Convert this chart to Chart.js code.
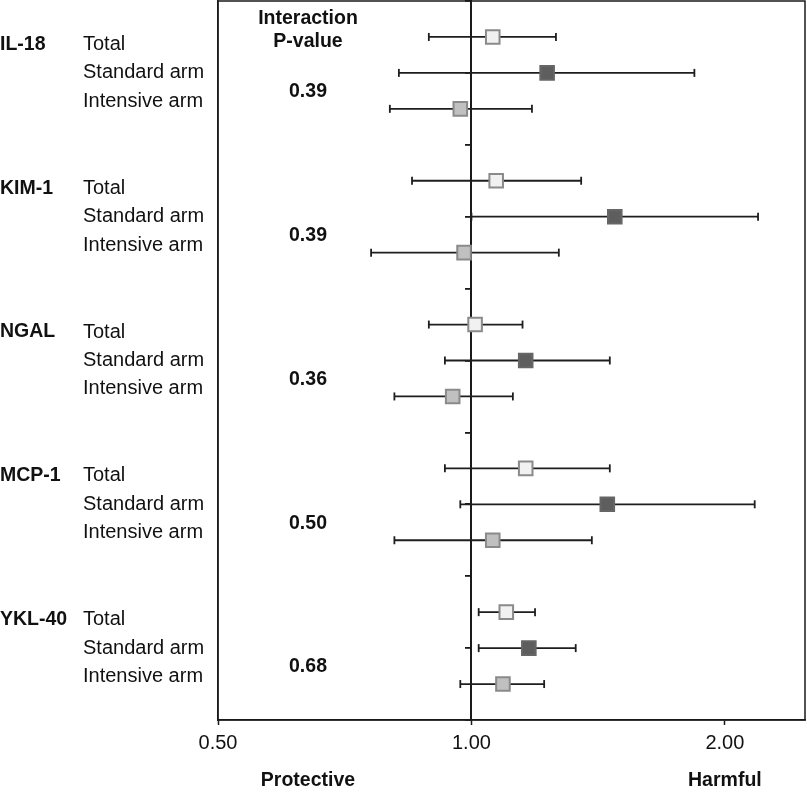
<!DOCTYPE html>
<html>
<head>
<meta charset="utf-8">
<script src="https://cdn.jsdelivr.net/npm/chart.js@4.4.1/dist/chart.umd.min.js"></script>
<style>
    html, body { margin: 0; padding: 0; background: #ffffff; }
    #wrap { width: 807px; height: 792px; position: relative; }
</style>
</head>
<body>
<div id="wrap"><canvas id="forest"></canvas></div>
<script>
// Data (hazard ratios, log scale)
const biomarkers = ['IL-18', 'KIM-1', 'NGAL', 'MCP-1', 'YKL-40'];
const arms = ['Total', 'Standard arm', 'Intensive arm'];
const pValues = ['0.39', '0.39', '0.36', '0.50', '0.68'];

const totalEst = [1.06, 1.07, 1.01, 1.16, 1.10];
const totalLo = [0.89, 0.85, 0.89, 0.93, 1.02];
const totalHi = [1.26, 1.35, 1.15, 1.46, 1.19];

const standardEst = [1.23, 1.48, 1.16, 1.45, 1.17];
const standardLo = [0.82, 1.00, 0.93, 0.97, 1.02];
const standardHi = [1.84, 2.19, 1.46, 2.17, 1.33];

const intensiveEst = [0.97, 0.98, 0.95, 1.06, 1.09];
const intensiveLo = [0.80, 0.76, 0.81, 0.81, 0.97];
const intensiveHi = [1.18, 1.27, 1.12, 1.39, 1.22];

const xTicks = [0.5, 1, 2];

// Style per arm
const armStyles = [
    { fill: '#f1f1f1', border: '#8a8a8a' },
    { fill: '#5e5e5e', border: '#666666' },
    { fill: '#c0c0c0', border: '#8a8a8a' }
];

const armEst = [totalEst, standardEst, intensiveEst];
const armLo = [totalLo, standardLo, intensiveLo];
const armHi = [totalHi, standardHi, intensiveHi];

// row index: 1 + 4 * group + arm (rows 0..20 on y axis)
function rowOf(g, a) { return 1 + 4 * g + a; }

const datasets = [];

// point estimates (drawn on top)
arms.forEach((arm, a) => {
    datasets.push({
        label: arm,
        data: biomarkers.map((b, g) => ({ x: armEst[a][g], y: rowOf(g, a) })),
        pointStyle: 'rect',
        pointRadius: 9.6,
        pointBackgroundColor: armStyles[a].fill,
        pointBorderColor: armStyles[a].border,
        pointBorderWidth: 2,
        showLine: false,
        order: 0
    });
});

// confidence intervals with end caps
biomarkers.forEach((b, g) => {
    arms.forEach((arm, a) => {
        datasets.push({
            label: b + ' ' + arm + ' CI',
            data: [
                { x: armLo[a][g], y: rowOf(g, a) },
                { x: armHi[a][g], y: rowOf(g, a) }
            ],
            showLine: true,
            borderColor: '#1e1e1e',
            borderWidth: 1.8,
            pointStyle: 'line',
            pointRotation: 90,
            pointRadius: 4,
            pointBorderColor: '#1e1e1e',
            pointBorderWidth: 1.8,
            order: 1
        });
    });
});

const FONT = "'Liberation Sans', Arial, Helvetica, sans-serif";

// Text columns and frame
const labelPlugin = {
    id: 'forestLabels',
    afterDraw(chart) {
        const ctx = chart.ctx;
        const area = chart.chartArea;
        const y = chart.scales.y;
        const x = chart.scales.x;
        const rowH = y.getPixelForValue(1) - y.getPixelForValue(0);
        const pCol = area.left + 90;

        ctx.save();
        // frame
        ctx.strokeStyle = '#1a1a1a';
        ctx.lineWidth = 1.5;
        ctx.strokeRect(area.left, area.top, area.right - area.left, area.bottom - area.top);

        ctx.fillStyle = '#111111';
        ctx.textBaseline = 'middle';

        biomarkers.forEach((b, g) => {
            const mid = y.getPixelForValue(rowOf(g, 1));
            const step = rowH * 0.79;
            // biomarker name
            ctx.font = 'bold 19.5px ' + FONT;
            ctx.textAlign = 'left';
            ctx.fillText(b, 0, mid - step);
            // arm names
            ctx.font = '20px ' + FONT;
            arms.forEach((arm, a) => {
                ctx.fillText(arm, 83, mid + (a - 1) * step);
            });
            // p-value
            ctx.font = 'bold 19.5px ' + FONT;
            ctx.textAlign = 'center';
            ctx.fillText(pValues[g], pCol, mid + 19);
        });

        // header
        ctx.font = 'bold 19.5px ' + FONT;
        ctx.textAlign = 'center';
        ctx.fillText('Interaction', pCol, area.top + 18);
        ctx.fillText('P-value', pCol, area.top + 41);

        // direction labels
        ctx.fillText('Protective', pCol, area.bottom + 61);
        ctx.fillText('Harmful', x.getPixelForValue(2), area.bottom + 61);
        ctx.restore();
    }
};

const ctxForest = document.getElementById('forest').getContext('2d');

const forestChart = new Chart(ctxForest, {
    type: 'scatter',
    data: { datasets: datasets },
    options: {
        responsive: true,
        maintainAspectRatio: false,
        animation: false,
        events: [],
        layout: { autoPadding: false, padding: { top: 1, right: 2, left: 0, bottom: 0 } },
        plugins: {
            legend: { display: false },
            tooltip: { enabled: false }
        },
        scales: {
            x: {
                type: 'logarithmic',
                min: 0.5,
                max: 2.49,
                afterBuildTicks: (axis) => {
                    axis.ticks = xTicks.map(v => ({ value: v }));
                },
                afterFit: (axis) => { axis.height = 72; },
                grid: {
                    drawOnChartArea: false,
                    drawTicks: true,
                    tickLength: 5,
                    tickColor: '#1a1a1a',
                    tickWidth: 1.5
                },
                border: { display: true, color: '#1a1a1a', width: 1.5 },
                ticks: {
                    color: '#111111',
                    padding: 6,
                    font: { family: FONT, size: 20 },
                    callback: (v) => Number(v).toFixed(2)
                }
            },
            y: {
                type: 'linear',
                min: 0,
                max: 20,
                reverse: true,
                afterFit: (axis) => { axis.width = 218; },
                grid: { display: false },
                border: { display: true, color: '#1a1a1a', width: 1.5 },
                ticks: { display: false }
            },
            yRef: {
                axis: 'y',
                type: 'linear',
                min: 0,
                max: 20,
                reverse: true,
                position: { x: 1 },
                grid: {
                    drawOnChartArea: false,
                    drawTicks: true,
                    tickLength: 5,
                    color: '#1a1a1a',
                    lineWidth: 1.8
                },
                border: { display: true, color: '#1a1a1a', width: 2 },
                ticks: { display: false, stepSize: 2 }
            }
        }
    },
    plugins: [labelPlugin]
});
</script>
</body>
</html>
